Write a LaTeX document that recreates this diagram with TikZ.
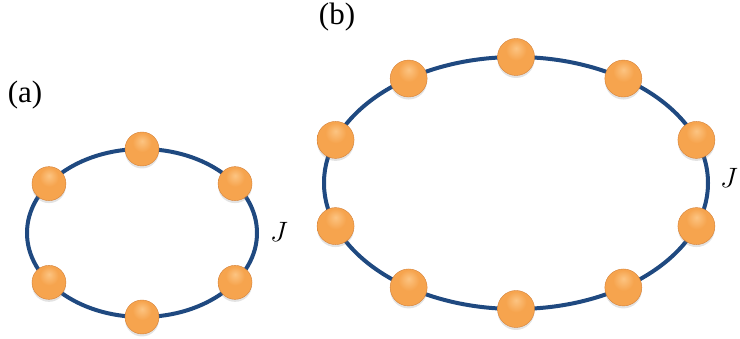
\documentclass[tikz,border=0pt]{standalone}
\usepackage{fix-cm}
\usepackage{fontspec}
\newfontfamily\labelfont{Liberation Serif}
\usetikzlibrary{calc,shadows}
\definecolor{ring}{RGB}{31,73,128}
\definecolor{orangehi}{RGB}{252,196,130}
\definecolor{orangemid}{RGB}{246,164,78}
\definecolor{orangelow}{RGB}{226,134,52}
\definecolor{orangerim}{RGB}{212,128,55}
\pgfdeclareradialshading{orb}{\pgfpoint{0bp}{12bp}}{%
  color(0bp)=(orangehi); color(14bp)=(orangemid); color(34bp)=(orangemid);
  color(50bp)=(orangelow); color(70bp)=(orangelow)}
\tikzset{
  site/.style={circle, inner sep=0pt, minimum size=#1, shading=orb,
    draw=orangerim, line width=0.4pt,
    drop shadow={shadow xshift=0pt, shadow yshift=-2.5pt, opacity=0.22}},
  ringline/.style={ring, line width=4pt},
  panel/.style={font=\labelfont\fontsize{31}{31}\selectfont},
  coupling/.style={font=\fontsize{28}{28}\selectfont}
}

\begin{document}
\begin{tikzpicture}[x=1pt,y=1pt]
\useasboundingbox (0,0) rectangle (740,339);
% ring (a): six sites
\coordinate (ca) at (142,106);
\draw[ringline] (ca) ellipse [x radius=115, y radius=84];
\foreach \ang [count=\i] in {36,90,144,216,270,324}
  \node[site=34pt] (a\i) at ($(ca)+(\ang:115 and 84)$) {};
% ring (b): ten sites
\coordinate (cb) at (516,156);
\draw[ringline] (cb) ellipse [x radius=192, y radius=126];
\foreach \ang [count=\i] in {20,56,90,124,160,200,236,270,304,340}
  \node[site=37pt] (b\i) at ($(cb)+(\ang:192 and 126)$) {};
% labels
\node[panel] (la) at (25,244) {(a)};
\node[panel] (lb) at (337,322) {(b)};
\node[coupling] (ja) at (279,107) {$J$};
\node[coupling] (jb) at (729,161) {$J$};
\end{tikzpicture}
\end{document}
